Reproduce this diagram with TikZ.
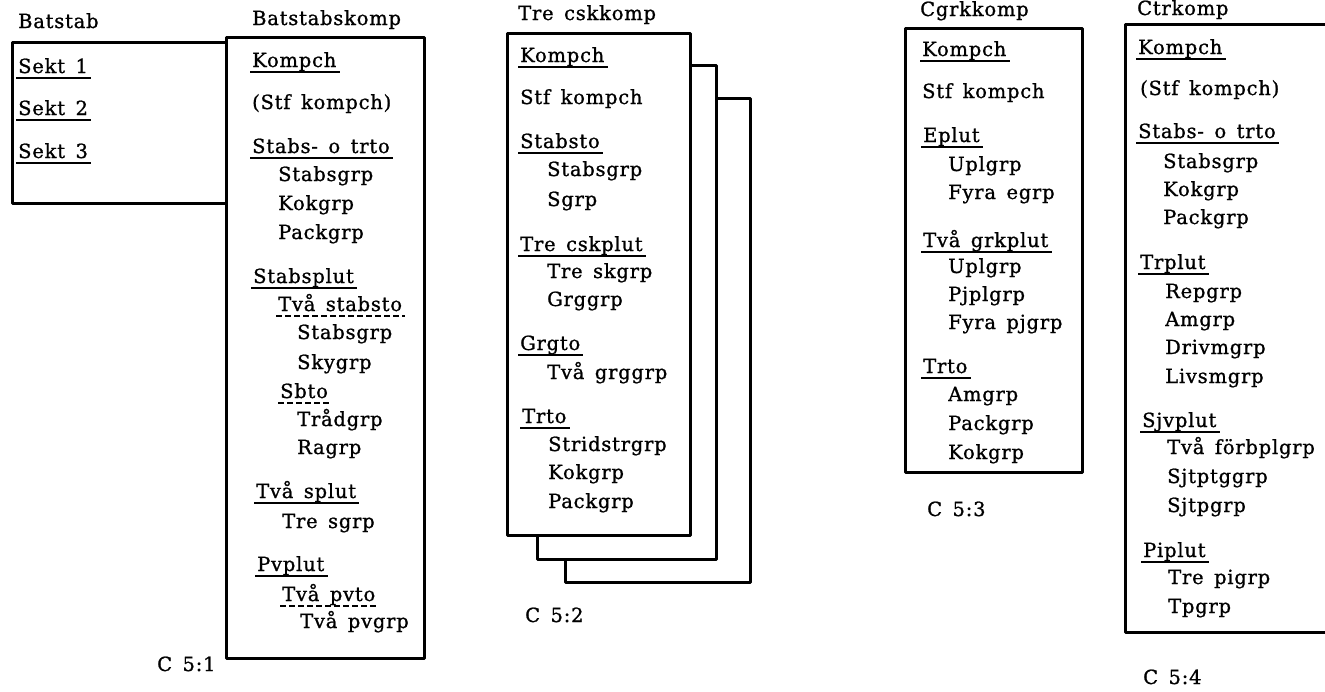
\documentclass[tikz,border=0pt]{standalone}
\usepackage{fontspec}
\setmainfont{DejaVu Serif}[LetterSpace=4,WordSpace=1.5,FakeBold=1]
\begin{document}
\begin{tikzpicture}[x=1pt,y=-1pt,
  it/.style={anchor=base west,inner sep=0pt,font=\fontsize{19.5}{24}\selectfont},
  boxline/.style={line width=3pt,line join=round},
  uline/.style={line width=1.4pt},
  duline/.style={line width=1.4pt,dash pattern=on 6pt off 3pt}]
\newcommand\ulin[1]{\draw[uline] ([shift={(-2pt,-5pt)}]#1.base west) -- ([shift={(3pt,-5pt)}]#1.base east);}
\newcommand\dulin[1]{\draw[duline] ([shift={(-2pt,-5pt)}]#1.base west) -- ([shift={(3pt,-5pt)}]#1.base east);}
\useasboundingbox (0,0) rectangle (1325,691);

% ---------- C 5:1 ----------
\draw[boxline] (226,42) -- (12,42) -- (12,203) -- (226,203);
\draw[boxline] (226,37) rectangle (424,658);
\node[it] (t1) at (18,28) {Batstab};
\node[it] (t2) at (252,25) {Batstabskomp};
\node[it] (s1) at (18,73) {Sekt 1}; \ulin{s1}
\node[it] (s2) at (18,115) {Sekt 2}; \ulin{s2}
\node[it] (s3) at (18,158) {Sekt 3}; \ulin{s3}
\node[it] (a1) at (252,67) {Kompch}; \ulin{a1}
\node[it] (a2) at (252,109) {(Stf kompch)};
\node[it] (a3) at (252,153) {Stabs- o trto}; \ulin{a3}
\node[it] (a4) at (278,181) {Stabsgrp};
\node[it] (a5) at (278,210) {Kokgrp};
\node[it] (a6) at (278,239) {Packgrp};
\node[it] (a7) at (253,283) {Stabsplut}; \ulin{a7}
\node[it] (a8) at (278,311) {Två stabsto}; \dulin{a8}
\node[it] (a9) at (297,339) {Stabsgrp};
\node[it] (a10) at (297,369) {Skygrp};
\node[it] (a11) at (280,398) {Sbto}; \dulin{a11}
\node[it] (a12) at (297,426) {Trådgrp};
\node[it] (a13) at (297,454) {Ragrp};
\node[it] (a14) at (256,498) {Två splut}; \ulin{a14}
\node[it] (a15) at (282,528) {Tre sgrp};
\node[it] (a16) at (257,571) {Pvplut}; \ulin{a16}
\node[it] (a17) at (282,601) {Två pvto}; \dulin{a17}
\node[it] (a18) at (300,628) {Två pvgrp};
\node[it] (c1) at (157,671) {C 5:1};

% ---------- C 5:2 ----------
\draw[boxline,fill=white] (565,98) rectangle (750,582);
\draw[boxline,fill=white] (537,65) rectangle (716,559);
\draw[boxline,fill=white] (507,33) rectangle (690,535);
\node[it] (t3) at (518,20) {Tre cskkomp};
\node[it] (b1) at (520,62) {Kompch}; \ulin{b1}
\node[it] (b2) at (520,104) {Stf kompch};
\node[it] (b3) at (520,148) {Stabsto}; \ulin{b3}
\node[it] (b4) at (547,176) {Stabsgrp};
\node[it] (b5) at (547,206) {Sgrp};
\node[it] (b6) at (520,251) {Tre cskplut}; \ulin{b6}
\node[it] (b7) at (547,278) {Tre skgrp};
\node[it] (b8) at (547,306) {Grggrp};
\node[it] (b9) at (520,350) {Grgto}; \ulin{b9}
\node[it] (b10) at (547,379) {Två grggrp};
\node[it] (b11) at (522,423) {Trto}; \ulin{b11}
\node[it] (b12) at (548,451) {Stridstrgrp};
\node[it] (b13) at (548,479) {Kokgrp};
\node[it] (b14) at (548,508) {Packgrp};
\node[it] (c2) at (525,622) {C 5:2};

% ---------- C 5:3 ----------
\draw[boxline] (905,28) rectangle (1082,472);
\node[it] (t4) at (920,16) {Cgrkkomp};
\node[it] (d1) at (922,56) {Kompch}; \ulin{d1}
\node[it] (d2) at (922,98) {Stf kompch};
\node[it] (d3) at (923,142) {Eplut}; \ulin{d3}
\node[it] (d4) at (948,171) {Uplgrp};
\node[it] (d5) at (948,199) {Fyra egrp};
\node[it] (d6) at (923,247) {Två grkplut}; \ulin{d6}
\node[it] (d7) at (948,273) {Uplgrp};
\node[it] (d8) at (948,301) {Pjplgrp};
\node[it] (d9) at (948,329) {Fyra pjgrp};
\node[it] (d10) at (923,373) {Trto}; \ulin{d10}
\node[it] (d11) at (948,401) {Amgrp};
\node[it] (d12) at (948,430) {Packgrp};
\node[it] (d13) at (948,459) {Kokgrp};
\node[it] (c3) at (927,516) {C 5:3};

% ---------- C 5:4 ----------
\draw[boxline] (1335,24) -- (1125,24) -- (1125,632) -- (1335,632);
\node[it] (t5) at (1137,15) {Ctrkomp};
\node[it] (e1) at (1138,54) {Kompch}; \ulin{e1}
\node[it] (e2) at (1140,95) {(Stf kompch)};
\node[it] (e3) at (1138,138) {Stabs- o trto}; \ulin{e3}
\node[it] (e4) at (1163,168) {Stabsgrp};
\node[it] (e5) at (1163,196) {Kokgrp};
\node[it] (e6) at (1163,224) {Packgrp};
\node[it] (e7) at (1140,269) {Trplut}; \ulin{e7}
\node[it] (e8) at (1165,298) {Repgrp};
\node[it] (e9) at (1165,326) {Amgrp};
\node[it] (e10) at (1165,354) {Drivmgrp};
\node[it] (e11) at (1165,383) {Livsmgrp};
\node[it] (e12) at (1142,427) {Sjvplut}; \ulin{e12}
\node[it] (e13) at (1167,454) {Två förbplgrp};
\node[it] (e14) at (1167,483) {Sjtptggrp};
\node[it] (e15) at (1167,512) {Sjtpgrp};
\node[it] (e16) at (1143,557) {Piplut}; \ulin{e16}
\node[it] (e17) at (1168,584) {Tre pigrp};
\node[it] (e18) at (1168,613) {Tpgrp};
\node[it] (c4) at (1143,684) {C 5:4};
\end{tikzpicture}
\end{document}
